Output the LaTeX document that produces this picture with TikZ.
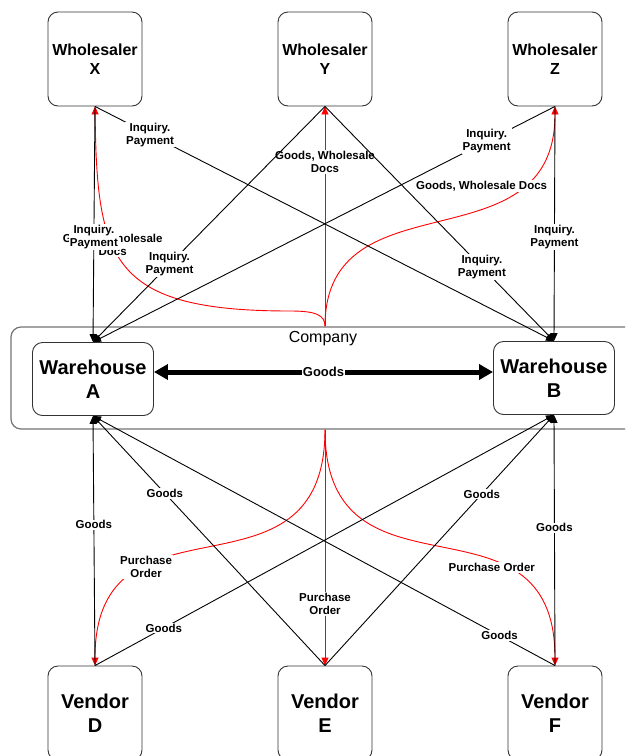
\documentclass[tikz,border=0pt]{standalone}
\usepackage{fontspec}
\setmainfont{Liberation Sans}
\usetikzlibrary{arrows.meta}

\begin{document}
\begin{tikzpicture}[x=1pt,y=-1pt]
    \tikzstyle{whole} = [rectangle, rounded corners=10pt, minimum width=94pt, minimum height=94pt, align=center, draw=black!80, line width=0.9pt, font=\fontsize{16}{19}\selectfont\bfseries]
    \tikzstyle{house} = [rectangle, rounded corners=10pt, minimum width=121pt, minimum height=73pt, align=center, draw=black!80, line width=0.9pt, font=\fontsize{20}{24}\selectfont\bfseries]
    \tikzstyle{vend}  = [whole, font=\fontsize{20}{24}\selectfont\bfseries]
    \tikzstyle{firm}  = [rectangle, rounded corners=10pt, minimum width=628pt, minimum height=102pt, draw=black!55, line width=1.2pt]
    \tikzstyle{lbl}   = [fill=white, text=black, inner sep=1pt, align=center, font=\fontsize{11.5}{13}\selectfont\bfseries]
    \tikzstyle{arrow} = [line width=0.9pt, -{Triangle[length=8pt,width=7pt]}]
    \tikzstyle{req}   = [arrow, red]
    \useasboundingbox (0,0) rectangle (625,756);
    \clip (0,0) rectangle (625,756);
    \node (c) [firm] at (325,378) {};
    \node (cn) at (323,339) {\fontsize{16}{19}\selectfont Company};
    \node (x) [whole] at (95,59)  {Wholesaler\\X};
    \node (y) [whole] at (325,59) {Wholesaler\\Y};
    \node (z) [whole] at (555,59) {Wholesaler\\Z};
    \node (a) [house] at (93,379)  {Warehouse\\A};
    \node (b) [house] at (554,378) {Warehouse\\B};
    \node (d) [vend] at (95,713)  {Vendor\\D};
    \node (e) [vend] at (325,713) {Vendor\\E};
    \node (f) [vend] at (555,713) {Vendor\\F};
    % company to wholesalers and vendors
    \draw[req] (c.north) .. controls (325,315) and (316,311) .. (290,311) .. controls (110,311) and (97,260) .. (x.south) node[lbl, pos=0.6] {Goods, Wholesale\\Docs};
    \draw[req] (c.north) -- (y.south) node[lbl, pos=0.747] {Goods, Wholesale\\Docs};
    \draw[req] (c.north) .. controls (325,173) and (555,270) .. (z.south) node[lbl, pos=0.76, xshift=-40pt] {Goods, Wholesale Docs};
    \draw[req] (c.south) .. controls (325,615) and (95,480) .. (d.north) node[lbl, pos=0.695] {Purchase\\Order};
    \draw[req] (c.south) -- (e.north) node[lbl, pos=0.74] {Purchase\\Order};
    \draw[req] (c.south) .. controls (325,615) and (555,480) .. (f.north) node[lbl, pos=0.655, yshift=-6pt] {Purchase Order};
    % wholesalers to warehouses
    \draw[arrow] (x.south) -- (a.north) node[lbl, pos=0.555] {Inquiry.\\Payment};
    \draw[arrow] (x.south) -- (b.north) node[lbl, pos=0.12]  {Inquiry.\\Payment};
    \draw[arrow] (y.south) -- (a.north) node[lbl, pos=0.67]  {Inquiry.\\Payment};
    \draw[arrow] (y.south) -- (b.north) node[lbl, pos=0.685] {Inquiry.\\Payment};
    \draw[arrow] (z.south) -- (a.north) node[lbl, pos=0.148] {Inquiry.\\Payment};
    \draw[arrow] (z.south) -- (b.north) node[lbl, pos=0.557] {Inquiry.\\Payment};
    % vendors to warehouses
    \draw[arrow] (d.north) -- (a.south) node[lbl, pos=0.564] {Goods};
    \draw[arrow] (e.north) -- (a.south) node[lbl, pos=0.69]  {Goods};
    \draw[arrow] (f.north) -- (a.south) node[lbl, pos=0.12]  {Goods};
    \draw[arrow] (d.north) -- (b.south) node[lbl, pos=0.15]  {Goods};
    \draw[arrow] (e.north) -- (b.south) node[lbl, pos=0.685] {Goods};
    \draw[arrow] (f.north) -- (b.south) node[lbl, pos=0.55]  {Goods};
    % between warehouses
    \draw[line width=5pt, {Triangle[length=14pt,width=15pt]}-{Triangle[length=14pt,width=15pt]}] ([yshift=7pt]a.east) -- ([yshift=6pt]b.west) node[lbl, midway, font=\fontsize{13}{15}\selectfont\bfseries] {Goods};
\end{tikzpicture}
\end{document}
